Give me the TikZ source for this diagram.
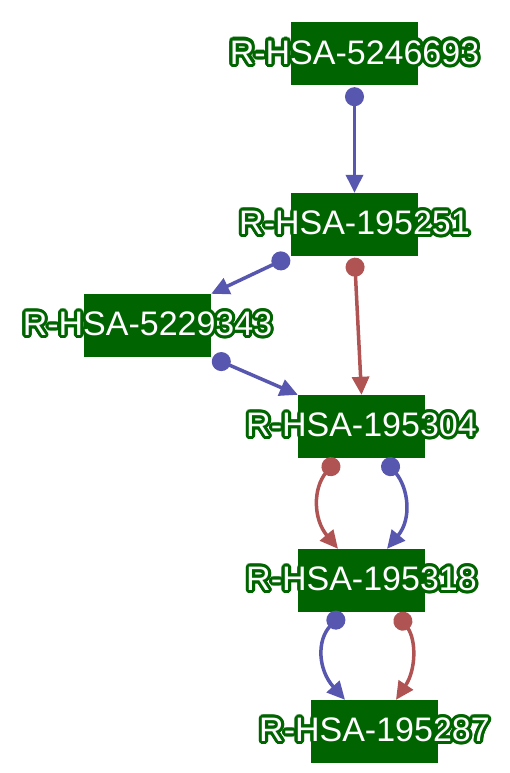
\documentclass[tikz,border=0pt]{standalone}
\usepackage{fontspec}
\setmainfont{Liberation Sans}
\usepackage{contour}
\usetikzlibrary{arrows.meta}

\definecolor{boxgreen}{HTML}{006400}
\definecolor{edgeblue}{HTML}{5757AF}
\definecolor{edgered}{HTML}{B05353}
\contourlength{3.2pt}
\newcommand{\rlabel}[1]{\makebox[0pt]{\contour{boxgreen}{#1}}}

\tikzset{
	rbox/.style={fill=boxgreen, minimum width=127pt, minimum height=63pt, inner sep=0pt,
		text=white, font=\fontsize{34}{34}\selectfont},
	link/.style={line width=3.5pt, shorten <=1.5pt,
		{Circle[length=19pt]}-{Triangle[length=18pt,width=17pt]}},
	bluelink/.style={link, color=edgeblue},
	redlink/.style={link, color=edgered},
}

\begin{document}
\begin{tikzpicture}[x=1pt,y=-1pt]
			\useasboundingbox (0,0) rectangle (509,773);
			% reactions
			\node[rbox] (r5246693) at (354.5,54) {\rlabel{R-HSA-5246693}};
			\node[rbox] (r195251) at (354.5,224.5) {\rlabel{R-HSA-195251}};
			\node[rbox] (r5229343) at (147.5,325.5) {\rlabel{R-HSA-5229343}};
			\node[rbox] (r195304) at (361.5,426.5) {\rlabel{R-HSA-195304}};
			\node[rbox] (r195318) at (361.5,580.5) {\rlabel{R-HSA-195318}};
			\node[rbox] (r195287) at (374.5,731.5) {\rlabel{R-HSA-195287}};
			% links
			\draw[bluelink] (r5246693.south) -- (r195251.north);
			\draw[bluelink] (r195251.south west) -- (r5229343.north east);
			\draw[redlink] (r195251.south) -- (r195304.north);
			\draw[bluelink] (r5229343.south east) -- (r195304.north west);
			\draw[redlink] ([xshift=-23.5pt]r195304.south) .. controls +(-25,30) and +(-25,-30) .. ([xshift=-23.5pt]r195318.north);
			\draw[bluelink] ([xshift=22pt]r195304.south) .. controls +(25,30) and +(25,-30) .. ([xshift=25.5pt]r195318.north);
			\draw[bluelink] ([xshift=-18pt]r195318.south) .. controls +(-27,28) and +(-27,-30) .. ([xshift=-29.5pt]r195287.north);
			\draw[redlink] ([xshift=35pt]r195318.south) .. controls +(20,28) and +(20,-30) .. ([xshift=21.5pt]r195287.north);
		\end{tikzpicture}
\end{document}
